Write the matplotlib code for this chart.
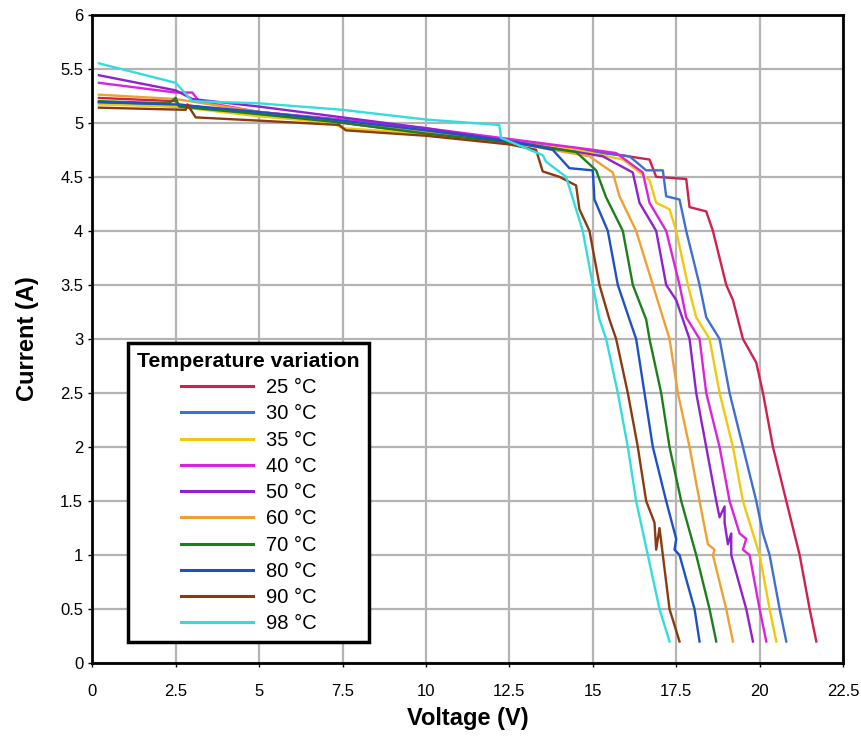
import matplotlib.pyplot as plt

plt.rcParams['font.family'] = ['Liberation Sans', 'DejaVu Sans']

# I-V curves, one pair of lists per temperature
v_25 = [0.2, 2.5, 2.6, 5, 7.5, 10, 12.5, 15, 16.7, 16.9, 17.8, 17.9, 18.4, 18.6, 19.0, 19.2, 19.5, 19.9, 20.1, 20.4, 20.8, 21.2, 21.5, 21.7]
i_25 = [5.23, 5.2, 5.17, 5.08, 5.0, 4.9, 4.82, 4.74, 4.66, 4.5, 4.48, 4.22, 4.18, 4.0, 3.5, 3.36, 3.0, 2.78, 2.5, 2.0, 1.5, 1.0, 0.5, 0.2]

v_30 = [0.2, 2.5, 5, 7.5, 10, 12.5, 15, 16.1, 16.6, 17.1, 17.2, 17.6, 17.8, 18.2, 18.4, 18.8, 19.1, 19.5, 19.9, 20.1, 20.3, 20.6, 20.8]
i_30 = [5.19, 5.15, 5.1, 5.02, 4.92, 4.83, 4.73, 4.69, 4.56, 4.56, 4.32, 4.29, 4.0, 3.5, 3.2, 3.0, 2.5, 2.0, 1.5, 1.2, 1.0, 0.5, 0.2]

v_35 = [0.2, 2.5, 5, 7.2, 7.5, 10, 12.5, 14.5, 15.9, 16.7, 16.9, 17.3, 17.5, 17.85, 18.1, 18.5, 18.8, 19.2, 19.5, 19.8, 20.0, 20.3, 20.5]
i_35 = [5.17, 5.15, 5.06, 5.0, 4.95, 4.9, 4.82, 4.75, 4.66, 4.47, 4.26, 4.2, 4.0, 3.5, 3.2, 3.0, 2.5, 2.0, 1.5, 1.2, 1.0, 0.5, 0.2]

v_40 = [0.2, 2.5, 3.0, 3.2, 5, 7.5, 10, 12.5, 15, 15.7, 16.5, 16.7, 17.2, 17.6, 17.8, 18.2, 18.4, 18.8, 19.1, 19.4, 19.6, 19.5, 19.7, 20.0, 20.2]
i_40 = [5.37, 5.28, 5.28, 5.2, 5.1, 5.03, 4.95, 4.85, 4.75, 4.72, 4.54, 4.26, 4.0, 3.5, 3.2, 3.0, 2.5, 2.0, 1.5, 1.2, 1.15, 1.05, 1.0, 0.5, 0.2]

v_50 = [0.2, 2.5, 3.0, 5, 7.5, 10, 12.5, 15.3, 16.2, 16.4, 16.9, 17.2, 17.5, 17.9, 18.1, 18.4, 18.7, 18.8, 18.95, 18.95, 19.05, 19.15, 19.15, 19.6, 19.8]
i_50 = [5.44, 5.3, 5.22, 5.15, 5.05, 4.95, 4.83, 4.69, 4.54, 4.26, 4.0, 3.5, 3.36, 3.0, 2.5, 2.0, 1.5, 1.35, 1.45, 1.3, 1.1, 1.2, 1.0, 0.5, 0.2]

v_60 = [0.2, 2.5, 5, 7.5, 10, 12.5, 14.9, 15.6, 15.8, 16.3, 16.8, 17.1, 17.3, 17.55, 17.9, 18.2, 18.45, 18.65, 18.6, 19.0, 19.2]
i_60 = [5.26, 5.22, 5.1, 5.02, 4.92, 4.82, 4.69, 4.54, 4.32, 4.0, 3.5, 3.2, 3.0, 2.5, 2.0, 1.5, 1.1, 1.05, 1.0, 0.5, 0.2]

v_70 = [0.2, 2.3, 2.5, 2.6, 5, 7.5, 10, 12.5, 14.5, 15.1, 15.4, 15.9, 16.2, 16.6, 16.7, 17.05, 17.3, 17.65, 18.1, 18.5, 18.7]
i_70 = [5.2, 5.18, 5.23, 5.15, 5.08, 5.0, 4.9, 4.82, 4.73, 4.56, 4.31, 4.0, 3.5, 3.18, 3.0, 2.5, 2.0, 1.5, 1.0, 0.5, 0.2]

v_80 = [0.2, 2.5, 5, 7.5, 10, 12.5, 13.8, 14.3, 15.0, 15.05, 15.45, 15.75, 16.1, 16.3, 16.55, 16.8, 17.2, 17.5, 17.45, 17.6, 18.05, 18.2]
i_80 = [5.19, 5.17, 5.1, 5.02, 4.93, 4.83, 4.75, 4.58, 4.56, 4.29, 4.0, 3.5, 3.18, 3.0, 2.5, 2.0, 1.5, 1.15, 1.05, 1.0, 0.5, 0.2]

v_90 = [0.2, 2.8, 2.85, 3.1, 5, 7.4, 7.6, 10, 12.5, 13.3, 13.5, 14.0, 14.5, 14.6, 14.9, 15.2, 15.5, 15.7, 16.05, 16.35, 16.6, 16.85, 16.9, 17.0, 17.1, 17.3, 17.6]
i_90 = [5.14, 5.12, 5.17, 5.05, 5.02, 4.98, 4.93, 4.88, 4.8, 4.75, 4.55, 4.5, 4.42, 4.2, 4.0, 3.5, 3.18, 3.0, 2.5, 2.0, 1.5, 1.3, 1.05, 1.25, 1.0, 0.5, 0.2]

v_98 = [0.2, 2.5, 3.0, 5, 7.5, 10, 12.2, 12.25, 13.5, 13.6, 14.2, 14.5, 14.7, 15.0, 15.2, 15.4, 15.75, 16.05, 16.3, 16.65, 17.0, 17.3]
i_98 = [5.55, 5.37, 5.2, 5.18, 5.12, 5.03, 4.98, 4.86, 4.7, 4.64, 4.5, 4.2, 4.0, 3.5, 3.18, 3.0, 2.5, 2.0, 1.5, 1.0, 0.5, 0.2]

labels = ['25 °C', '30 °C', '35 °C', '40 °C', '50 °C', '60 °C', '70 °C', '80 °C', '90 °C', '98 °C']
colors = ['#d0204f', '#3f6fd0', '#f2c80f', '#dd22dd', '#9020d0',
          '#f0a030', '#1b7f1b', '#1e50c8', '#8b3a0f', '#33dddd']
volts = [v_25, v_30, v_35, v_40, v_50, v_60, v_70, v_80, v_90, v_98]
amps = [i_25, i_30, i_35, i_40, i_50, i_60, i_70, i_80, i_90, i_98]

x_ticks = [0, 2.5, 5, 7.5, 10, 12.5, 15, 17.5, 20, 22.5]
y_ticks = [0, 0.5, 1, 1.5, 2, 2.5, 3, 3.5, 4, 4.5, 5, 5.5, 6]

fig = plt.figure(figsize=(8.62, 7.36), dpi=100)
ax = fig.add_axes([0.107, 0.099, 0.871, 0.881])

for v, i, lab, col in zip(volts, amps, labels, colors):
    ax.plot(v, i, color=col, linewidth=1.7, label=lab)

ax.set_xlim(0, 22.5)
ax.set_ylim(0, 6)
ax.set_xticks(x_ticks)
ax.set_xticklabels([f'{t:g}' for t in x_ticks])
ax.set_yticks(y_ticks)
ax.set_yticklabels([f'{t:g}' for t in y_ticks])
ax.tick_params(labelsize=12, length=3, width=1)
ax.tick_params(axis='x', pad=12)
ax.grid(True, color='#b4b4b4', linewidth=1.6)
ax.set_axisbelow(True)
for sp in ax.spines.values():
    sp.set_linewidth(2)
    sp.set_color('black')

ax.set_xlabel('Voltage (V)', fontsize=17, fontweight='bold', labelpad=6)
ax.set_ylabel('Current (A)', fontsize=17, fontweight='bold', labelpad=15)

leg = ax.legend(title='Temperature variation', loc='lower left',
                bbox_to_anchor=(0.048, 0.032), borderaxespad=0,
                fontsize=14.5, title_fontproperties={'weight': 'bold', 'size': 15.3},
                handlelength=3.6, handletextpad=0.6, labelspacing=0.36,
                fancybox=False, framealpha=1, edgecolor='black', borderpad=0.45)
leg.get_frame().set_linewidth(2.5)
for line in leg.get_lines():
    line.set_linewidth(2.2)

plt.savefig('out.png', dpi=100)
